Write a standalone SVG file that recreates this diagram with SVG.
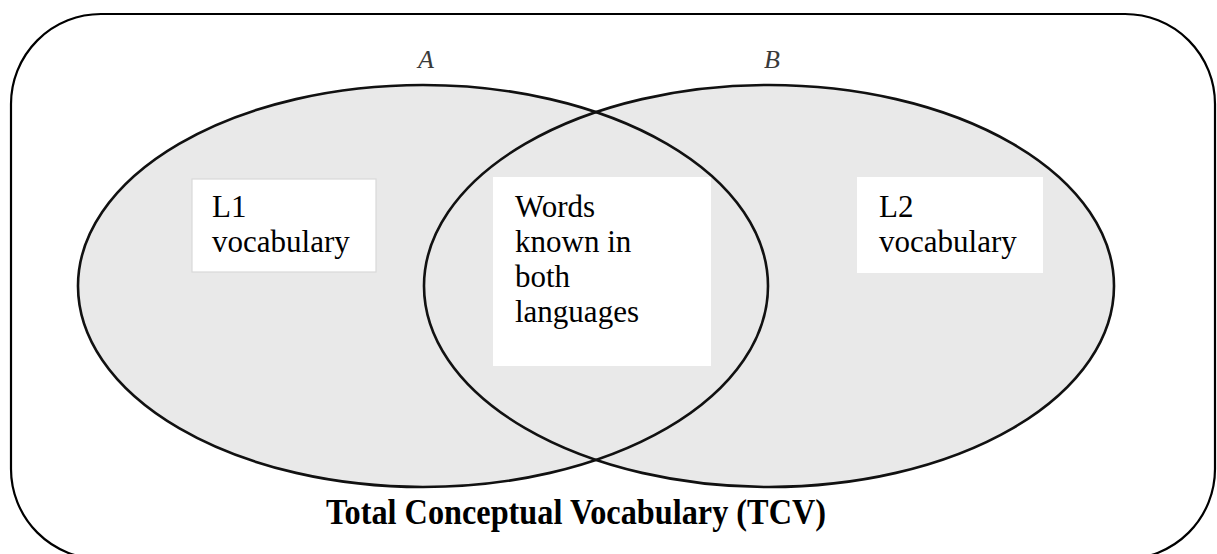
<svg xmlns="http://www.w3.org/2000/svg" width="1217" height="554" viewBox="0 0 1217 554">
  <style>
    .frame { fill: #ffffff; stroke: #000000; stroke-width: 2.2; }
    .set-fill { fill: #e9e9e9; stroke: none; }
    .set-line { fill: none; stroke: #111111; stroke-width: 2.6; }
    .box { fill: #ffffff; stroke: none; }
    .box-edged { fill: #ffffff; stroke: #d9d9d9; stroke-width: 1.2; }
    .label { font-family: "Liberation Serif", "Times New Roman", serif; font-size: 31px; fill: #000000; }
    .set-name { font-family: "Liberation Serif", "Times New Roman", serif; font-style: italic; font-size: 26px; fill: #3a3a3a; }
    .title { font-family: "Liberation Serif", "Times New Roman", serif; font-weight: bold; font-size: 35px; fill: #000000; }
  </style>

  <!-- outer rounded frame -->
  <rect id="frame" class="frame" x="11" y="14" width="1204" height="545" rx="90" ry="90"/>

  <!-- set fills first, outlines on top so both curves show through the overlap -->
  <g id="set-A">
    <ellipse class="set-fill" cx="423" cy="286" rx="345" ry="201"/>
    <text class="set-name" x="426" y="68" text-anchor="middle">A</text>
  </g>
  <g id="set-B">
    <ellipse class="set-fill" cx="769" cy="286" rx="345" ry="201"/>
    <text class="set-name" x="772" y="68" text-anchor="middle">B</text>
  </g>
  <g id="outlines">
    <ellipse class="set-line" cx="423" cy="286" rx="345" ry="201"/>
    <ellipse class="set-line" cx="769" cy="286" rx="345" ry="201"/>
  </g>

  <g id="l1-vocabulary">
    <rect class="box-edged" x="192" y="179" width="184" height="93"/>
    <text class="label" x="212" y="217">L1</text>
    <text class="label" x="212" y="252">vocabulary</text>
  </g>

  <g id="shared-words">
    <rect class="box" x="493" y="177" width="218" height="189"/>
    <text class="label" x="515" y="217">Words</text>
    <text class="label" x="515" y="252">known in</text>
    <text class="label" x="515" y="287">both</text>
    <text class="label" x="515" y="322">languages</text>
  </g>

  <g id="l2-vocabulary">
    <rect class="box" x="857" y="177" width="186" height="96"/>
    <text class="label" x="879" y="217">L2</text>
    <text class="label" x="879" y="252">vocabulary</text>
  </g>

  <g id="caption">
    <text class="title" x="326" y="524" textLength="500" lengthAdjust="spacingAndGlyphs">Total Conceptual Vocabulary (TCV)</text>
  </g>
</svg>
